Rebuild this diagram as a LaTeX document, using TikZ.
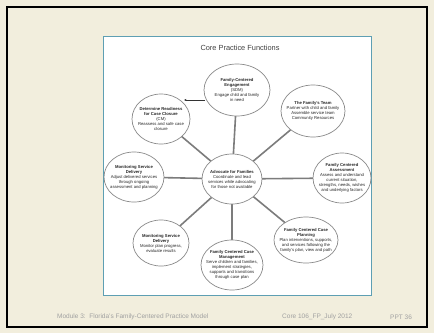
\documentclass[tikz,border=0pt]{standalone}
\usepackage{fontspec}
\setmainfont{Liberation Sans}
\usetikzlibrary{arrows.meta}
\definecolor{cream}{HTML}{F2EEDD}
\definecolor{teal}{HTML}{5E9FB3}
\definecolor{circ}{HTML}{8A8A8A}
\definecolor{spoke}{HTML}{7C7C7C}
\definecolor{foot}{HTML}{A0A0A0}
\begin{document}
\begin{tikzpicture}[x=1pt,y=-1pt,
  bub/.style={draw=circ,line width=0.7pt,fill=white},
  txt/.style={align=center,font=\fontsize{4.2}{5}\selectfont,inner sep=0pt,text=black!85},
  sp/.style={draw=spoke,line width=1.6pt},
  ft/.style={font=\fontsize{6.5}{7}\selectfont,text=foot,anchor=west,inner sep=0pt}]
\useasboundingbox (0,0) rectangle (434,333);
\fill[cream] (0,0) rectangle (434,333);
\draw[black,line width=2pt] (7,7) rectangle (427,327);
\draw[teal,fill=white,line width=0.8pt] (103,36) rectangle (371,295);
\node[font=\fontsize{7.4}{8}\selectfont,text=black!75,inner sep=0pt] (title) at (240,48) {Core Practice Functions};
\coordinate (C) at (232,179);
\coordinate (T) at (237,90);
\coordinate (UL) at (161,119);
\coordinate (UR) at (313,111);
\coordinate (L) at (134,177);
\coordinate (LL) at (161,243);
\coordinate (B) at (232,265);
\coordinate (LR) at (306,240);
\coordinate (R) at (342,178);
% spokes
\draw[sp] (C) -- (T);
\draw[sp] (C) -- (UL);
\draw[sp] (C) -- (UR);
\draw[sp] (C) -- (L);
\draw[sp] (C) -- (LL);
\draw[sp] (C) -- (B);
\draw[sp] (C) -- (LR);
\draw[sp] (C) -- (R);
% bubbles
\draw[bub] (C) ellipse [x radius=30,y radius=25];
\draw[bub] (T) ellipse [x radius=33,y radius=26];
\draw[bub] (UL) ellipse [x radius=29,y radius=25];
\draw[bub] (UR) ellipse [x radius=32,y radius=26];
\draw[bub] (L) ellipse [x radius=30,y radius=25];
\draw[bub] (LL) ellipse [x radius=28,y radius=23];
\draw[bub] (B) ellipse [x radius=31,y radius=25];
\draw[bub] (LR) ellipse [x radius=32,y radius=23];
\draw[bub] (R) ellipse [x radius=29,y radius=25];
% thin connector
\coordinate (a1) at (205,100);
\coordinate (a2) at (184,100);
\draw[black!80,line width=0.4pt,-{Latex[length=2.2pt,width=2.2pt]}] (a1) -- (a2);
% texts
\node[txt] (tC) at (C) {\textbf{Advocate for Families}\\Coordinate and lead\\services while advocating\\for those not available};
\node[txt] (tT) at (T) {\textbf{Family-Centered}\\\textbf{Engagement}\\(SDM)\\Engage child and family\\in need};
\node[txt] (tUL) at (UL) {\textbf{Determine Readiness}\\\textbf{for Case Closure}\\(CM)\\Reassess and safe case\\closure};
\node[txt] (tUR) at (UR) {\textbf{The Family's Team}\\Partner with child and family\\Assemble service team\\Community Resources};
\node[txt] (tL) at (L) {\textbf{Monitoring Service}\\\textbf{Delivery}\\Adjust delivered services\\through ongoing\\assessment and planning};
\node[txt] (tLL) at (LL) {\textbf{Monitoring Service}\\\textbf{Delivery}\\Monitor plan progress,\\evaluate results};
\node[txt] (tB) at (B) {\textbf{Family Centered Case}\\\textbf{Management}\\Serve children and families,\\implement strategies,\\supports and transitions\\through case plan};
\node[txt] (tLR) at (LR) {\textbf{Family Centered Case}\\\textbf{Planning}\\Plan interventions, supports,\\and services following the\\family's plan, view and path};
\node[txt] (tR) at (R) {\textbf{Family Centered}\\\textbf{Assessment}\\Assess and understand\\current situation,\\strengths, needs, wishes\\and underlying factors};
% footer
\node[ft] (f1) at (57,317) {Module 3:\ \ Florida's Family-Centered Practice Model};
\node[ft] (f2) at (282,317) {Core 106\_FP\_July 2012};
\node[ft] (f3) at (390,317) {PPT 36};
\end{tikzpicture}
\end{document}
